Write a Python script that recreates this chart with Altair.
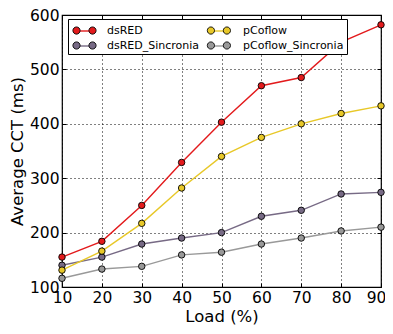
import altair as alt
import pandas as pd

loads = [10, 20, 30, 40, 50, 60, 70, 80, 90]
y_ticks = [100, 200, 300, 400, 500, 600]
series_names = ["dsRED", "dsRED_Sincronia", "pCoflow", "pCoflow_Sincronia"]
dsred = [155, 184, 250, 329, 403, 470, 485, 550, 582]
dsred_sinc = [140, 155, 179, 190, 200, 230, 241, 271, 274]
pcoflow = [131, 166, 217, 282, 340, 375, 400, 419, 433]
pcoflow_sinc = [116, 133, 138, 159, 164, 179, 190, 203, 210]
colors = ["#e31a1c", "#776a85", "#e8c828", "#999999"]

values = {"dsRED": dsred, "pCoflow": pcoflow,
          "dsRED_Sincronia": dsred_sinc, "pCoflow_Sincronia": pcoflow_sinc}
rows = []
for name in series_names:
    for x, y in zip(loads, values[name]):
        rows.append({"series": name, "marker": name + "*", "load": x, "cct": y})
df = pd.DataFrame(rows)

FONT = "DejaVu Sans"
LEG_FS = 11

common_legend = dict(
    orient="none", legendX=6, legendY=4, columns=2, title=None,
    labelFont=FONT, labelFontSize=LEG_FS, labelColor="black",
    symbolSize=256, symbolOffset=5, labelOffset=13,
    rowPadding=1, padding=3, labelLimit=300,
)

x_main = alt.X("load:Q", scale=alt.Scale(domain=[10, 90], nice=False),
               axis=alt.Axis(values=loads, title="Load (%)", format="d",
                             labelFlush=False, offset=-4, tickSize=4, domain=False,
                             labelOffset=alt.expr("datum.value == 90 ? -5 : 0")))
y_main = alt.Y("cct:Q", scale=alt.Scale(domain=[100, 600], nice=False),
               axis=alt.Axis(values=y_ticks, title="Average CCT (ms)", format="d",
                             labelFlush=False, offset=-4, tickSize=4, domain=False))

lines = alt.Chart(df).mark_line(strokeWidth=1.4).encode(
    x=x_main, y=y_main,
    color=alt.Color("series:N",
                    scale=alt.Scale(domain=series_names, range=colors),
                    legend=alt.Legend(symbolType="M-1,0L1,0",
                                      symbolStrokeWidth=1.4, columnPadding=7,
                                      strokeColor="black", fillColor="white",
                                      zindex=5, **common_legend)),
    detail="series:N",
)

pts = alt.Chart(df).mark_point(filled=True, size=42, stroke="black",
                               strokeWidth=0.9, opacity=1).encode(
    x=alt.X("load:Q", axis=None),
    y=alt.Y("cct:Q", axis=None),
    fill=alt.Fill("marker:N",
                  scale=alt.Scale(domain=[s + "*" for s in series_names], range=colors),
                  legend=alt.Legend(
                      symbolType="M-0.55,0A0.45,0.45,0,1,1,-1.45,0A0.45,0.45,0,1,1,-0.55,0Z"
                                 "M1.45,0A0.45,0.45,0,1,1,0.55,0A0.45,0.45,0,1,1,1.45,0Z",
                      symbolStrokeColor="black", symbolStrokeWidth=0.9,
                      symbolOpacity=1, labelExpr="''", columnPadding=99.4,
                      zindex=6, **common_legend)),
)

mirror = alt.Chart(df).mark_point(opacity=0).encode(
    x=alt.X("load:Q", axis=alt.Axis(orient="top", values=loads, labels=False,
                                     title=None, grid=False, domain=False,
                                     offset=-4, tickSize=4)),
    y=alt.Y("cct:Q", axis=alt.Axis(orient="right", values=y_ticks, labels=False,
                                    title=None, grid=False, domain=False,
                                    offset=-4, tickSize=4)),
)

chart = alt.layer(lines, pts, mirror).resolve_axis(
    x="independent", y="independent"
).properties(
    width=319, height=272,
    autosize=alt.AutoSizeParams(type="none"),
    padding={"left": 54, "top": 7, "right": 4, "bottom": 39},
).configure_view(
    stroke="black", strokeWidth=1.2,
).configure_axis(
    labelFont=FONT, labelFontSize=15.5, labelColor="black",
    titleFont=FONT, titleFontSize=16.5, titleFontWeight="normal", titleColor="black",
    tickColor="black", tickWidth=1,
    grid=True, gridColor="black", gridDash=[1, 3], gridOpacity=1, gridWidth=1,
).configure_axisX(
    labelPadding=3, titlePadding=3,
).configure_axisY(
    labelPadding=3, titlePadding=4,
)

chart.save("out.html", embed_options={"renderer": "svg", "actions": False})
